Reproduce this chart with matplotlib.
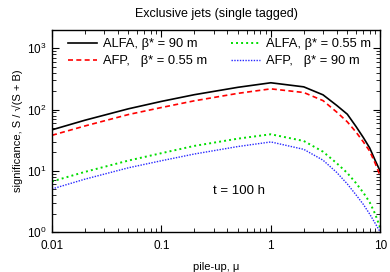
import matplotlib
matplotlib.use("Agg")
import matplotlib.pyplot as plt
from matplotlib.ticker import FixedLocator, FixedFormatter, LogLocator, NullFormatter

plt.rcParams['font.family'] = ['Liberation Sans', 'DejaVu Sans']
plt.rcParams['mathtext.fontset'] = 'custom'
plt.rcParams['mathtext.rm'] = 'Liberation Sans'
plt.rcParams['mathtext.it'] = 'Liberation Sans:italic'

mu = [0.01, 0.02, 0.05, 0.1, 0.2, 0.5, 1, 2, 3, 4, 5, 6, 7, 8, 9, 10]
alfa_90 = [46.7, 67, 103, 136, 175, 231, 274, 235, 174, 117, 84, 53, 35, 23.7, 14.7, 9.8]
afp_055 = [38, 54, 83, 108, 139, 184, 218, 190, 140, 91, 63, 43, 29.7, 21, 13.2, 8.2]
alfa_055 = [6.7, 9.6, 14.7, 19.4, 25.5, 33.5, 39.5, 30.7, 20.5, 13.3, 9.2, 6.3, 4.4, 3.07, 1.96, 1.16]
afp_90 = [5.05, 7.3, 11.2, 14.6, 18.8, 24.9, 29.6, 22.4, 14.9, 9.4, 6.1, 4.05, 2.83, 1.97, 1.38, 1.0]

labels = ["ALFA, β* = 90 m", "AFP,   β* = 0.55 m", "ALFA, β* = 0.55 m", "AFP,   β* = 90 m"]
xticks = [0.01, 0.1, 1, 10]
xticklabels = ["0.01", "0.1", "1", "10"]

fig = plt.figure(figsize=(3.9, 2.72), dpi=100)
ax = fig.add_axes([0.1333, 0.147, 0.975 - 0.1333, 0.890 - 0.147])

ax.plot(mu, alfa_90, color='black', lw=1.2, ls='-', label=labels[0])
ax.plot(mu, afp_055, color='#ff0000', lw=1.2, ls=(0, (3, 2)), label=labels[1])
ax.plot(mu, alfa_055, color='#00dd00', lw=1.4, ls=(0, (1, 1.6)), label=labels[2])
ax.plot(mu, afp_90, color='#2828ff', lw=1.0, ls=(0, (1, 1)), label=labels[3])

ax.set_xscale('log')
ax.set_yscale('log')
ax.set_xlim(0.01, 10)
ax.set_ylim(1, 2000)

ax.xaxis.set_major_locator(FixedLocator(xticks))
ax.xaxis.set_major_formatter(FixedFormatter(xticklabels))
ax.xaxis.set_minor_locator(LogLocator(base=10, subs=range(2, 10)))
ax.xaxis.set_minor_formatter(NullFormatter())
ax.yaxis.set_major_locator(LogLocator(base=10, numticks=10))
ax.yaxis.set_minor_locator(LogLocator(base=10, subs=range(2, 10), numticks=10))
ax.yaxis.set_minor_formatter(NullFormatter())

ax.tick_params(which='both', direction='in', top=True, right=True, labelsize=8.5)
ax.tick_params(axis='x', which='both', pad=6)
ax.tick_params(axis='y', which='both', pad=4)
ax.tick_params(which='major', length=5, width=0.8)
ax.tick_params(which='minor', length=3, width=0.6)
for s in ax.spines.values():
    s.set_linewidth(1.0)

ax.set_xlabel("pile-up, μ", fontsize=8, labelpad=7)
ax.set_ylabel("significance, S / √(S + B)", fontsize=8, labelpad=3)
ax.set_title("Exclusive jets (single tagged)", fontsize=9, pad=9)

ax.text(0.489, 0.19, "t = 100 h", transform=ax.transAxes, fontsize=9.5)

ax.legend(ncol=2, frameon=False, fontsize=9.3, loc='upper left',
          bbox_to_anchor=(0.033, 0.985), handlelength=2.25, handletextpad=0.45,
          columnspacing=1.85, labelspacing=0.4, borderaxespad=0.0, borderpad=0.4)

fig.savefig("out.png", dpi=100)
